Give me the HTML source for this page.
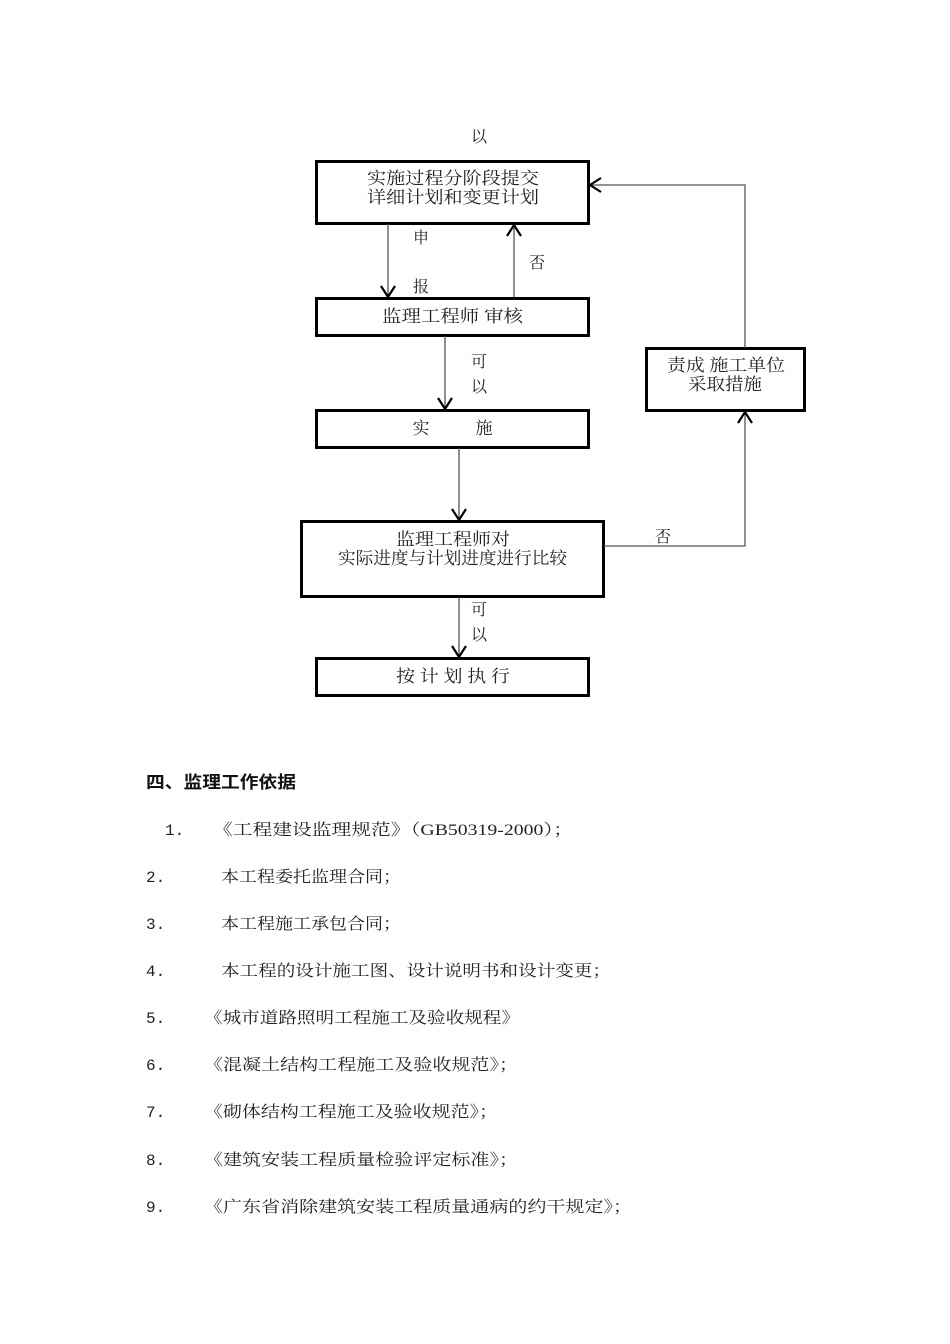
<!DOCTYPE html>
<html><head><meta charset="utf-8"><style>
html,body{margin:0;padding:0;background:#fff;}
svg{display:block;}
text{font-family:"Liberation Serif","Noto Serif CJK SC","Noto Sans CJK SC",serif;fill:#222;}
.s{font-family:"Liberation Sans","Noto Sans CJK SC",sans-serif;}
.m{font-family:"Liberation Mono",monospace;}
</style></head><body>
<svg width="950" height="1344" viewBox="0 0 950 1344" xmlns="http://www.w3.org/2000/svg">
<g fill="none" stroke="#000" stroke-width="3">
<rect x="316.5" y="161.5" width="272" height="62"/>
<rect x="316.5" y="298.5" width="272" height="37"/>
<rect x="316.5" y="410.5" width="272" height="37"/>
<rect x="301.5" y="521.5" width="302" height="75"/>
<rect x="316.5" y="658.5" width="272" height="37"/>
<rect x="646.5" y="348.5" width="158" height="62"/>
</g>
<g fill="none" stroke="#555" stroke-width="1.3">
<line x1="388" y1="224" x2="388" y2="296"/>
<line x1="514" y1="297" x2="514" y2="225"/>
<line x1="445" y1="336" x2="445" y2="408"/>
<line x1="459" y1="448" x2="459" y2="519"/>
<line x1="459" y1="597" x2="459" y2="656"/>
<polyline points="604,546 745,546 745,412"/>
<polyline points="745,348 745,185 590,185"/>
</g>
<g fill="none" stroke="#000" stroke-width="2.2">
<polyline points="381,286 388,297 395,286"/>
<polyline points="507,236 514,225 521,236"/>
<polyline points="438,398 445,409 452,398"/>
<polyline points="452,509 459,520 466,509"/>
<polyline points="452,646 459,657 466,646"/>
<polyline points="738,423 745,412 752,423"/>
<polyline points="601,178 590,185 601,192"/>
</g>
<g class="s" font-size="17">
<text x="479" y="142" text-anchor="middle" font-size="16">以</text>
<text x="367" y="184" textLength="172" lengthAdjust="spacingAndGlyphs">实施过程分阶段提交</text>
<text x="367" y="203" textLength="172" lengthAdjust="spacingAndGlyphs">详细计划和变更计划</text>
<text x="421" y="243" text-anchor="middle" font-size="16">申</text>
<text x="421" y="292" text-anchor="middle" font-size="16">报</text>
<text x="537" y="268" text-anchor="middle" font-size="16">否</text>
<text x="382" y="322" textLength="141" lengthAdjust="spacingAndGlyphs">监理工程师 审核</text>
<text x="479" y="367" text-anchor="middle" font-size="16">可</text>
<text x="479" y="392" text-anchor="middle" font-size="16">以</text>
<text x="421" y="434" text-anchor="middle">实</text>
<text x="484" y="434" text-anchor="middle">施</text>
<text x="396" y="545" textLength="114" lengthAdjust="spacingAndGlyphs">监理工程师对</text>
<text x="338" y="564" textLength="229" lengthAdjust="spacingAndGlyphs">实际进度与计划进度进行比较</text>
<text x="663" y="542" text-anchor="middle" font-size="16">否</text>
<text x="479" y="615" text-anchor="middle" font-size="16">可</text>
<text x="479" y="640" text-anchor="middle" font-size="16">以</text>
<text x="396" y="682" textLength="114" lengthAdjust="spacingAndGlyphs">按 计 划 执 行</text>
<text x="667" y="371" textLength="118" lengthAdjust="spacingAndGlyphs">责成 施工单位</text>
<text x="688" y="390" textLength="74" lengthAdjust="spacingAndGlyphs">采取措施</text>
</g>
<text class="s" x="146" y="788" font-size="17" font-weight="bold" textLength="150" lengthAdjust="spacingAndGlyphs" style="fill:#111">四、监理工作依据</text>
<g font-size="16" style="fill:#333">
<text class="m" x="165" y="835">1.</text>
<text x="213" y="835" textLength="360" lengthAdjust="spacingAndGlyphs">《工程建设监理规范》（GB50319-2000）；</text>
<text class="m" x="146" y="882">2.</text>
<text x="221" y="882" textLength="180" lengthAdjust="spacingAndGlyphs">本工程委托监理合同；</text>
<text class="m" x="146" y="929">3.</text>
<text x="221" y="929" textLength="180" lengthAdjust="spacingAndGlyphs">本工程施工承包合同；</text>
<text class="m" x="146" y="976">4.</text>
<text x="221" y="976" textLength="390" lengthAdjust="spacingAndGlyphs">本工程的设计施工图、设计说明书和设计变更；</text>
<text class="m" x="146" y="1023">5.</text>
<text x="204" y="1023" textLength="316" lengthAdjust="spacingAndGlyphs">《城市道路照明工程施工及验收规程》</text>
<text class="m" x="146" y="1070">6.</text>
<text x="204" y="1070" textLength="314" lengthAdjust="spacingAndGlyphs">《混凝土结构工程施工及验收规范》；</text>
<text class="m" x="146" y="1117">7.</text>
<text x="204" y="1117" textLength="294" lengthAdjust="spacingAndGlyphs">《砌体结构工程施工及验收规范》；</text>
<text class="m" x="146" y="1165">8.</text>
<text x="204" y="1165" textLength="314" lengthAdjust="spacingAndGlyphs">《建筑安装工程质量检验评定标准》；</text>
<text class="m" x="146" y="1212">9.</text>
<text x="204" y="1212" textLength="428" lengthAdjust="spacingAndGlyphs">《广东省消除建筑安装工程质量通病的约干规定》；</text>
</g>
</svg>
</body></html>
